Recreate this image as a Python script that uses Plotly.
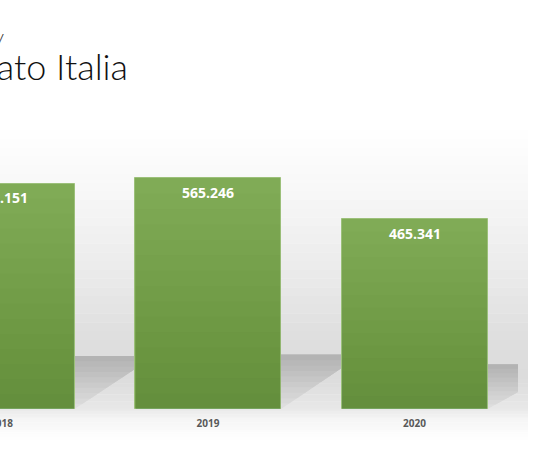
import plotly.graph_objects as go

years = ["2018", "2019", "2020"]
values = [552.151, 565.246, 465.341]
labels = ["552.151", "565.246", "465.341"]

W, H = 534, 462
L, R, T, B = 0, 16, 130, 53
pw = W - L - R
ph = H - T - B

xpos = list(range(len(years)))
bar_w = 0.707

fig = go.Figure()
fig.add_trace(go.Bar(
    x=xpos, y=values, width=bar_w,
    marker=dict(color="#80ab56", line=dict(color="#9cc07a", width=1)),
    hoverinfo="skip",
))

# value labels sit just under the top of each bar
for i, v in enumerate(values):
    fig.add_annotation(x=xpos[i], y=v, text=labels[i], showarrow=False,
                       yanchor="middle", yshift=-14,
                       font=dict(family="Open Sans", size=14, color="white", weight="bold"))

shapes = []

# grey gradient panel behind the chart
stops = [(130, (255, 255, 255)), (200, (246, 246, 246)), (270, (235, 235, 235)),
         (340, (222, 222, 222)), (380, (220, 220, 220)), (409, (232, 232, 232)),
         (420, (245, 245, 245)), (440, (255, 255, 255))]
def py(p):
    return (H - B - p) / ph
for (y0, c0), (y1, c1) in zip(stops[:-1], stops[1:]):
    n = 8
    for k in range(n):
        a = (k + 0.5) / n
        c = tuple(int(round(c0[j] + (c1[j] - c0[j]) * a)) for j in range(3))
        ya = y0 + (y1 - y0) * k / n
        yb = y0 + (y1 - y0) * (k + 1) / n
        shapes.append(dict(type="rect", xref="paper", yref="paper", layer="below",
                           x0=-0.05, x1=528 / pw, y0=py(yb), y1=py(ya) + 0.001,
                           fillcolor="rgb(%d,%d,%d)" % c, line=dict(width=0)))

# perspective floor shadow of each bar, darker towards its far edge
sx = 80 / 206.5
steps = 10
for i, v in enumerate(values):
    xl, xr = xpos[i] - bar_w / 2, xpos[i] + bar_w / 2
    top = 0.235 * v
    for k in range(steps):
        a = k / steps
        g = int(round(222 - 48 * a))
        path = "M %f,%f L %f,%f L %f,%f L %f,%f Z" % (
            xl + a * sx, a * top, xr + a * sx, a * top, xr + sx, top, xl + sx, top)
        shapes.append(dict(type="path", xref="x", yref="y", layer="below", path=path,
                           fillcolor="rgb(%d,%d,%d)" % (g, g, g), line=dict(width=0)))

# light-to-dark shading down each bar (thin translucent layers)
shade = 14
for i, v in enumerate(values):
    for k in range(1, shade + 1):
        shapes.append(dict(type="rect", xref="x", yref="y", layer="above",
                           x0=xpos[i] - bar_w / 2 + 0.003, x1=xpos[i] + bar_w / 2 - 0.003,
                           y0=0, y1=v * k / (shade + 1),
                           fillcolor="rgba(20,40,0,0.015)", line=dict(width=0)))

fig.update_layout(shapes=shapes)

# slide title, cut off by the left edge of the picture
fig.add_annotation(xref="paper", yref="paper", x=130 / pw, y=py(66), xanchor="right",
                   yanchor="middle", showarrow=False, text="Fatturato Italia",
                   font=dict(family="Lato", size=36, color="#111111", weight=300))
fig.add_annotation(xref="paper", yref="paper", x=6 / pw, y=py(36), xanchor="right",
                   yanchor="middle", showarrow=False, text="y",
                   font=dict(family="Lato", size=20, color="#333333", weight=300))

fig.update_layout(
    width=W, height=H,
    margin=dict(l=L, r=R, t=T, b=B),
    paper_bgcolor="white", plot_bgcolor="rgba(0,0,0,0)",
    showlegend=False, bargap=0,
    xaxis=dict(range=[-1.5 / 206.5, (pw - 1.5) / 206.5], tickvals=xpos, ticktext=years,
               showgrid=False, zeroline=False, showline=False, ticks="",
               ticklabelstandoff=7, automargin=False, ticklabeloverflow="allow",
               tickfont=dict(family="Open Sans", size=10, color="#595959", weight="bold")),
    yaxis=dict(range=[0, ph / 0.408], visible=False, showgrid=False, zeroline=False,
               automargin=False),
)

fig.write_html("out.html", config={"displayModeBar": False},
               post_script="document.body.style.margin='0px';")
